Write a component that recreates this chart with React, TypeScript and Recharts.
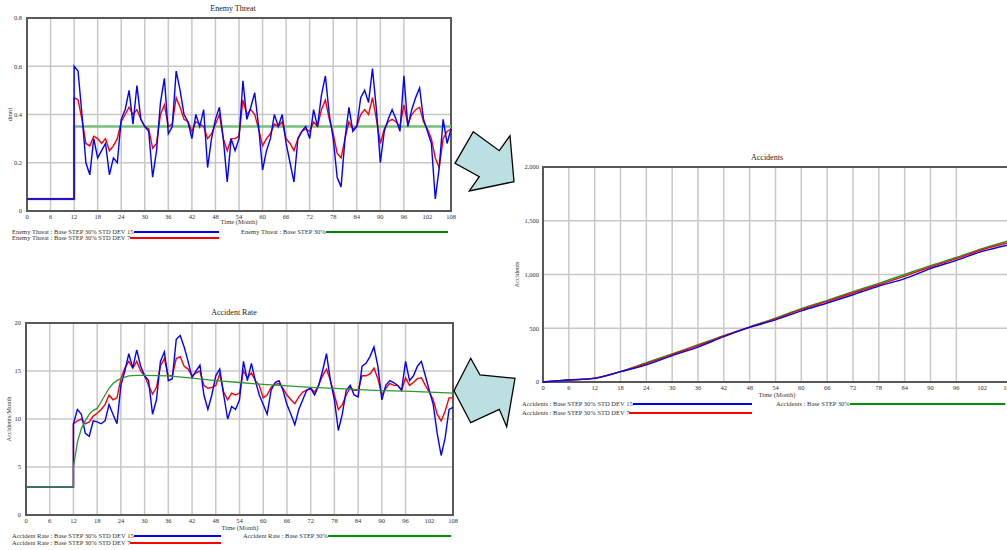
import React from 'react';
import { LineChart, Line, XAxis, YAxis, CartesianGrid, ReferenceArea } from 'recharts';

const FONT = '"Liberation Serif", "Times New Roman", serif';

// time axis (month 12 appears twice so the step is vertical)
const months = [
  0, 1, 2, 3, 4, 5, 6, 7, 8, 9, 10, 11,
  12, 12,
  13, 14, 15, 16, 17, 18, 19, 20, 21, 22, 23, 24,
  25, 26, 27, 28, 29, 30, 31, 32, 33, 34, 35, 36,
  37, 38, 39, 40, 41, 42, 43, 44, 45, 46, 47, 48,
  49, 50, 51, 52, 53, 54, 55, 56, 57, 58, 59, 60,
  61, 62, 63, 64, 65, 66, 67, 68, 69, 70, 71, 72,
  73, 74, 75, 76, 77, 78, 79, 80, 81, 82, 83, 84,
  85, 86, 87, 88, 89, 90, 91, 92, 93, 94, 95, 96,
  97, 98, 99, 100, 101, 102, 103, 104, 105, 106, 107, 108,
];
const timeTicks = [0, 6, 12, 18, 24, 30, 36, 42, 48, 54, 60, 66, 72, 78, 84, 90, 96, 102, 108];

// Enemy Threat (dmnl)
const threatBlue = [
  0.05, 0.05, 0.05, 0.05, 0.05, 0.05, 0.05, 0.05, 0.05, 0.05, 0.05, 0.05,
  0.05, 0.6,
  0.58, 0.4, 0.2, 0.15, 0.3, 0.22, 0.25, 0.28, 0.15, 0.22, 0.2, 0.38,
  0.42, 0.5, 0.36, 0.52, 0.38, 0.35, 0.33, 0.14, 0.25, 0.45, 0.55, 0.32,
  0.35, 0.58, 0.5, 0.4, 0.37, 0.3, 0.4, 0.35, 0.42, 0.18, 0.3, 0.38,
  0.43, 0.3, 0.12, 0.3, 0.25, 0.3, 0.54, 0.38, 0.43, 0.49, 0.35, 0.17,
  0.25, 0.3, 0.4, 0.35, 0.4, 0.28, 0.2, 0.12, 0.3, 0.33, 0.35, 0.3,
  0.42, 0.35, 0.48, 0.56, 0.4, 0.3, 0.14, 0.1, 0.3, 0.43, 0.33, 0.35,
  0.47, 0.5, 0.45, 0.59, 0.42, 0.2, 0.33, 0.38, 0.42, 0.38, 0.33, 0.56,
  0.35, 0.42, 0.47, 0.51, 0.38, 0.33, 0.28, 0.05, 0.18, 0.38, 0.28, 0.34,
];
const threatRed = [
  0.05, 0.05, 0.05, 0.05, 0.05, 0.05, 0.05, 0.05, 0.05, 0.05, 0.05, 0.05,
  0.05, 0.47,
  0.46, 0.38, 0.28, 0.27, 0.31, 0.3, 0.28, 0.3, 0.25, 0.27, 0.3, 0.37,
  0.4, 0.43, 0.4, 0.42, 0.38, 0.35, 0.34, 0.26, 0.28, 0.4, 0.44, 0.35,
  0.36, 0.47, 0.43, 0.38, 0.37, 0.33, 0.37, 0.36, 0.35, 0.3, 0.32, 0.36,
  0.4, 0.3, 0.25, 0.3, 0.3, 0.31, 0.46, 0.4, 0.42, 0.4, 0.34, 0.27,
  0.3, 0.32, 0.36, 0.35, 0.37, 0.3, 0.28, 0.25, 0.3, 0.33, 0.34, 0.33,
  0.37, 0.35, 0.42, 0.46, 0.38, 0.32, 0.24, 0.22, 0.3, 0.37, 0.34, 0.35,
  0.4, 0.42, 0.4, 0.47, 0.38, 0.28, 0.34, 0.37, 0.38, 0.37, 0.35, 0.44,
  0.36, 0.4, 0.42, 0.43, 0.37, 0.34, 0.3, 0.22, 0.18, 0.3, 0.33, 0.34,
];
const threatGreenTime = [0, 12, 12, 108];
const threatGreen = [0.05, 0.05, 0.35, 0.35];

// Accident Rate (Accidents/Month)
const rateBlue = [
  2.9, 2.9, 2.9, 2.9, 2.9, 2.9, 2.9, 2.9, 2.9, 2.9, 2.9, 2.9,
  2.9, 9.5,
  11, 10.5, 8.5, 8.2, 9.8, 9.7, 9.5, 9.8, 11.5, 10.5, 9.5, 13.5,
  15, 16.8, 15.3, 17.2, 15.5, 14.5, 14, 10.5, 12, 16, 17, 14,
  14.2, 18.3, 18.7, 17.5, 16, 14.3, 15, 15.6, 12.5, 11, 12.5, 14.5,
  15.2, 12.5, 10, 11.3, 11, 12, 16, 14, 15.8, 14, 12.5, 11.5,
  10.5, 13, 13.8, 14, 13, 11.5, 10.5, 9.4, 11, 12, 13, 13.2,
  12.5, 13.5, 15, 16.8, 14, 12, 8.8, 10.5, 13, 13.5, 12.5, 12.3,
  15.5, 15.8, 16.5, 17.5, 15.5, 12, 13.5, 14, 13.8, 13.5, 13, 16,
  14, 14.5, 15.5, 16, 14.5, 13, 11.5, 8.5, 6.2, 8, 11, 11.2,
];
const rateRed = [
  2.9, 2.9, 2.9, 2.9, 2.9, 2.9, 2.9, 2.9, 2.9, 2.9, 2.9, 2.9,
  2.9, 9.5,
  9.8, 10, 9.5, 9.7, 10.3, 10.6, 11, 11.5, 12.5, 12, 12.2, 14.2,
  15.3, 16, 15.3, 16, 15, 14.5, 13.5, 12.6, 13.3, 15.5, 16.3, 14.5,
  14.5, 16.3, 16.5, 15.5, 15.2, 14.5, 14.8, 15, 13.5, 13.2, 13.3, 13.5,
  14.7, 12.8, 12, 12.7, 12.5, 12.7, 15, 14.3, 14.8, 14, 13.5, 12.2,
  12.5, 13.3, 13.6, 13.7, 13.2, 12.5, 12, 11.6, 12.3, 12.8, 13, 13.2,
  12.8, 13.5, 14.5, 15.2, 14, 12.5, 11, 11.5, 12.5, 13.3, 13, 13,
  14.5, 14.5, 14.7, 15.3, 14.2, 12.5, 13.2, 13.7, 13.5, 13.5, 13, 14.3,
  13.5, 13.8, 14.2, 14.3, 13.5, 12.8, 12, 10.5, 9.8, 10.8, 12.2, 12.2,
];
const rateGreenTime = [0, 12, 12, 13, 14, 15, 16, 17, 18, 19, 20, 21, 22, 23, 24, 26, 28, 30, 36, 42, 48, 54, 60, 66, 72, 78, 84, 90, 96, 102, 108];
const rateGreen = [2.9, 2.9, 5.0, 7.6, 9.0, 9.8, 10.5, 10.9, 11.1, 11.8, 12.5, 13.2, 13.7, 14.0, 14.2, 14.5, 14.55, 14.55, 14.5, 14.25, 14.0, 13.8, 13.6, 13.45, 13.3, 13.2, 13.05, 12.95, 12.9, 12.8, 12.7];

// Accidents (cumulative)
const accTime = [0, 6, 12, 18, 24, 30, 36, 42, 48, 54, 60, 66, 72, 78, 84, 90, 96, 102, 108];
const accGreen = [0, 19, 36, 97, 180, 262, 347, 432, 512, 595, 683, 760, 840, 918, 1000, 1082, 1158, 1240, 1312];
const accRed = [0, 19, 35, 97, 170, 255, 338, 428, 510, 588, 675, 750, 828, 905, 985, 1070, 1147, 1230, 1295];
const accBlue = [0, 18, 34, 96, 160, 245, 325, 422, 508, 578, 662, 735, 812, 892, 962, 1055, 1132, 1215, 1275];

const rows = (t: number[], v: number[]) => t.map((x, i) => ({ t: x, v: v[i] }));

const tickStyle = { fontSize: 6.5, fill: '#333', fontFamily: FONT };
const gridColor = '#c8c8c8';
const borderColor = '#585858';

function Title({ x, y, text }: { x: number; y: number; text: string }) {
  return (
    <div style={{ position: 'absolute', left: x, top: y - 5, transform: 'translateX(-50%)', fontSize: 8, lineHeight: '10px', color: '#222', whiteSpace: 'nowrap' }}>
      {text}
    </div>
  );
}

function AxisCaption({ x, y, text }: { x: number; y: number; text: string }) {
  return (
    <div style={{ position: 'absolute', left: x, top: y - 4, transform: 'translateX(-50%)', fontSize: 6.5, lineHeight: '8px', color: '#333', whiteSpace: 'nowrap' }}>
      {text}
    </div>
  );
}

function LegendRow({ x, y, width, text, color }: { x: number; y: number; width: number; text: string; color: string }) {
  const top = Math.round(y) - 4;
  return (
    <div style={{ position: 'absolute', left: Math.round(x), top, width, height: 8, fontSize: 6.5, lineHeight: '8px', color: '#333', display: 'flex' }}>
      <span style={{ whiteSpace: 'nowrap' }}>{text}</span>
      <div style={{ flex: 1, position: 'relative' }}>
        <div style={{ position: 'absolute', left: 0, right: 0, top: 3, height: 2, background: color }} />
      </div>
    </div>
  );
}

function yLabel(text: string, dx: number) {
  return { value: text, angle: -90, position: 'center' as const, dx, style: { fontSize: 6.5, fill: '#333', fontFamily: FONT } };
}

export default function App() {
  return (
    <div style={{ position: 'absolute', left: 0, top: 0, width: 1007, height: 550, overflow: 'hidden', background: '#fff', fontFamily: FONT }}>
      {/* Enemy Threat */}
      <Title x={233} y={9.3} text="Enemy Threat" />
      <div style={{ position: 'absolute', left: 0, top: 0 }}>
        <LineChart width={460} height={230} margin={{ top: 18, right: 9, bottom: 7, left: 0 }}>
          <CartesianGrid stroke={gridColor} strokeWidth={1.5} />
          <XAxis dataKey="t" type="number" domain={[0, 108]} ticks={timeTicks} tick={tickStyle} tickLine={false} axisLine={false} tickSize={0} tickMargin={3} height={12} />
          <YAxis type="number" domain={[0, 0.8]} ticks={[0, 0.2, 0.4, 0.6, 0.8]} tick={tickStyle} tickLine={false} axisLine={false} tickSize={0} tickMargin={5} width={27} label={yLabel('dmnl', -4)} />
          <Line data={rows(threatGreenTime, threatGreen)} dataKey="v" stroke="#78bf78" strokeWidth={2.5} dot={false} isAnimationActive={false} />
          <Line data={rows(months, threatRed)} dataKey="v" stroke="#ff0000" strokeWidth={1.4} dot={false} isAnimationActive={false} />
          <Line data={rows(months, threatBlue)} dataKey="v" stroke="#0000ff" strokeWidth={1.4} dot={false} isAnimationActive={false} />
          <ReferenceArea x1={0} x2={108} y1={0} y2={0.8} fill="none" stroke={borderColor} strokeWidth={2} />
        </LineChart>
      </div>
      <AxisCaption x={239} y={222} text="Time (Month)" />
      <LegendRow x={12.3} y={231.7} width={207} text="Enemy Threat : Base STEP 30% STD DEV 15" color="#0000ff" />
      <LegendRow x={12.3} y={238.3} width={207} text="Enemy Threat : Base STEP 30% STD DEV 7" color="#ff0000" />
      <LegendRow x={241} y={231.7} width={207} text="Enemy Threat : Base STEP 30%" color="#008000" />

      {/* Accident Rate */}
      <Title x={234} y={313.3} text="Accident Rate" />
      <div style={{ position: 'absolute', left: 0, top: 300 }}>
        <LineChart width={460} height={230} margin={{ top: 23, right: 7, bottom: 3, left: 0 }}>
          <CartesianGrid stroke={gridColor} strokeWidth={1.5} />
          <XAxis dataKey="t" type="number" domain={[0, 108]} ticks={timeTicks} tick={tickStyle} tickLine={false} axisLine={false} tickSize={0} tickMargin={3} height={12} />
          <YAxis type="number" domain={[0, 20]} ticks={[0, 5, 10, 15, 20]} tick={tickStyle} tickLine={false} axisLine={false} tickSize={0} tickMargin={5} width={26} label={yLabel('Accidents/Month', -4)} />
          <Line data={rows(months, rateRed)} dataKey="v" stroke="#ff0000" strokeWidth={1.4} dot={false} isAnimationActive={false} />
          <Line data={rows(months, rateBlue)} dataKey="v" stroke="#0000ff" strokeWidth={1.4} dot={false} isAnimationActive={false} />
          <Line data={rows(rateGreenTime, rateGreen)} dataKey="v" stroke="#2a9a2a" strokeWidth={1.3} dot={false} isAnimationActive={false} />
          <ReferenceArea x1={0} x2={108} y1={0} y2={20} fill="none" stroke={borderColor} strokeWidth={2} />
        </LineChart>
      </div>
      <AxisCaption x={240} y={528} text="Time (Month)" />
      <LegendRow x={12} y={536} width={209} text="Accident Rate : Base STEP 30% STD DEV 15" color="#0000ff" />
      <LegendRow x={12} y={543.3} width={209} text="Accident Rate : Base STEP 30% STD DEV 7" color="#ff0000" />
      <LegendRow x={242.7} y={536} width={208} text="Accident Rate : Base STEP 30%" color="#009000" />

      {/* Accidents */}
      <Title x={767} y={158} text="Accidents" />
      <div style={{ position: 'absolute', left: 500, top: 140 }}>
        <LineChart width={520} height={260} margin={{ top: 27, right: 12, bottom: 3, left: 0 }}>
          <CartesianGrid stroke={gridColor} strokeWidth={1.5} />
          <XAxis dataKey="t" type="number" domain={[0, 108]} ticks={timeTicks} tick={tickStyle} tickLine={false} axisLine={false} tickSize={0} tickMargin={3} height={15} />
          <YAxis type="number" domain={[0, 2000]} ticks={[0, 500, 1000, 1500, 2000]} tickFormatter={(v: number) => v.toLocaleString('en-US')} tick={tickStyle} tickLine={false} axisLine={false} tickSize={0} tickMargin={4} width={43} label={yLabel('Accidents', -5)} />
          <Line data={rows(accTime, accGreen)} dataKey="v" type="monotone" stroke="#1a9a1a" strokeWidth={1.4} dot={false} isAnimationActive={false} />
          <Line data={rows(accTime, accRed)} dataKey="v" type="monotone" stroke="#ff0000" strokeWidth={1.4} dot={false} isAnimationActive={false} />
          <Line data={rows(accTime, accBlue)} dataKey="v" type="monotone" stroke="#0000ff" strokeWidth={1.4} dot={false} isAnimationActive={false} />
          <ReferenceArea x1={0} x2={108} y1={0} y2={2000} fill="none" stroke={borderColor} strokeWidth={2} />
        </LineChart>
      </div>
      <AxisCaption x={777} y={395} text="Time (Month)" />
      <LegendRow x={521.7} y={404.3} width={230} text="Accidents : Base STEP 30% STD DEV 15" color="#0000ff" />
      <LegendRow x={521.7} y={412.7} width={230} text="Accidents : Base STEP 30% STD DEV 7" color="#ff0000" />
      <LegendRow x={776} y={404.3} width={229} text="Accidents : Base STEP 30%" color="#009000" />

      {/* arrows */}
      <svg width={1007} height={550} style={{ position: 'absolute', left: 0, top: 0, pointerEvents: 'none' }}>
        <polygon points="473.3,131.7 499.3,150.7 510,135.7 514,181.7 469.3,191 479.3,176.7 455,163.3" fill="#bcdfe2" stroke="#000" strokeWidth={1.3} strokeLinejoin="miter" />
        <polygon points="470.7,358.3 480,375 515,378.3 506.7,426.7 499.3,409.3 470.7,422.7 454,390.7" fill="#bcdfe2" stroke="#000" strokeWidth={1.3} strokeLinejoin="miter" />
      </svg>
    </div>
  );
}
